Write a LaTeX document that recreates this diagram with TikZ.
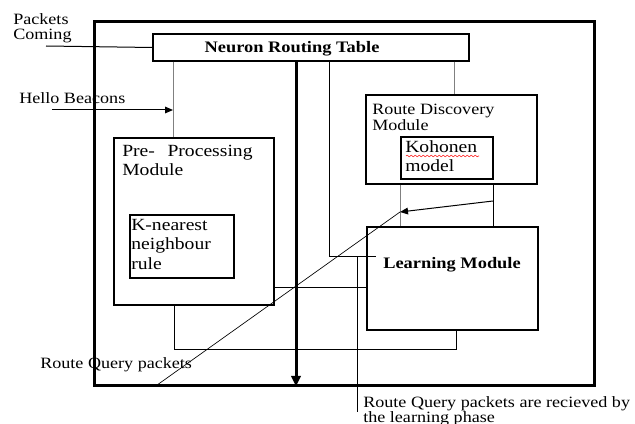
\documentclass[tikz,border=0pt]{standalone}
\usepackage{fontspec}
\setmainfont[FakeStretch=1.15]{Liberation Serif}
\usetikzlibrary{arrows.meta,positioning,calc,decorations.pathmorphing}

\begin{document}
\begin{tikzpicture}[x=0.75pt,y=-0.75pt,
  mbox/.style={draw,line width=0.8pt,inner sep=0pt},
  lbl/.style={align=left,inner sep=0pt,anchor=north west,font=\fontsize{11.8}{11.6}\selectfont},
  widelbl/.style={lbl,font=\fontsize{12.8}{14.5}\selectfont},
  title/.style={inner sep=0pt,font=\fontsize{12}{14}\selectfont\bfseries},
  conn/.style={line width=0.75pt},
  tip/.style={-{Triangle[length=6pt,width=5pt]}}]
\useasboundingbox (0,0) rectangle (635,424);
\node[draw,line width=2.25pt,minimum width=375pt,minimum height=272.25pt,inner sep=0pt] (frame) at (344,203.5){};
\node[mbox,minimum width=237pt,minimum height=20.25pt] (nrt) at (311,47.5){};
\node[title] (nrttext) at (292,49){Neuron Routing Table};
\node[mbox,minimum width=120pt,minimum height=125.25pt] (prep) at (194,221.5){};
\node[widelbl] (preptext) at (122,145){Pre-\hspace{0.45em} Processing\\Module};
\node[mbox,minimum width=78pt,minimum height=47.25pt] (knn) at (182,246.5){};
\node[widelbl] (knntext) at (131,219){K-nearest\\neighbour\\rule};
\node[mbox,minimum width=128.25pt,minimum height=66.75pt] (rdm) at (451.5,139.5){};
\node[lbl,font=\fontsize{11.8}{12}\selectfont] (rdmtext) at (372,104){Route Discovery\\Module};
\node[mbox,minimum width=69pt,minimum height=31.5pt] (koh) at (447,158){};
\node[widelbl] (kohtext) at (405,140){Kohonen\\model};
\node[mbox,minimum width=128.25pt,minimum height=77.25pt] (learn) at (452.5,278.5){};
\node[title] (learntext) at (452,265){Learning Module};
\node[lbl] (pc) at (13,13){Packets\\Coming};
\node[lbl] (hb) at (19,92){Hello Beacons};
\node[lbl] (rqp) at (40,357){Route Query packets};
\node[lbl] (rqr) at (363,396){Route Query packets are recieved by\\the learning phase};
\coordinate (hbend) at (173,110);
\coordinate (rq) at (400,212);
\coordinate (rqfoot) at (357,412);
\draw[red,line width=0.4pt,decorate,decoration={snake,amplitude=0.6pt,segment length=3pt}] (406,156)--(479,156);
\draw[conn] (46,46)--(nrt.west);
\draw[conn,tip] (52,110)--(hbend);
\draw[conn,gray] (173,0 |- nrt.south)--(173,0 |- prep.north);
\draw[line width=2.25pt,-{Triangle[length=8pt,width=7pt]}] (296,0 |- nrt.south)--(296,0 |- frame.south);
\draw[conn] (329,0 |- nrt.south)--(329,256)--(376,256);
\draw[conn] (357,256)--(rqfoot);
\draw[conn,gray] (454,0 |- nrt.south)--(454,0 |- rdm.north);
\draw[conn,gray] (400,0 |- rdm.south)--(400,0 |- learn.north);
\draw[conn] (493,0 |- rdm.south)--(493,0 |- learn.north);
\draw[conn,tip] (493,201)--(rq);
\draw[line width=0.5pt] (155,0 |- frame.south)--(rq);
\draw[conn] (274,287)--(367,287);
\draw[conn] (174,0 |- prep.south)--(174,349)--(456,349)--(456,0 |- learn.south);
\end{tikzpicture}
\end{document}
